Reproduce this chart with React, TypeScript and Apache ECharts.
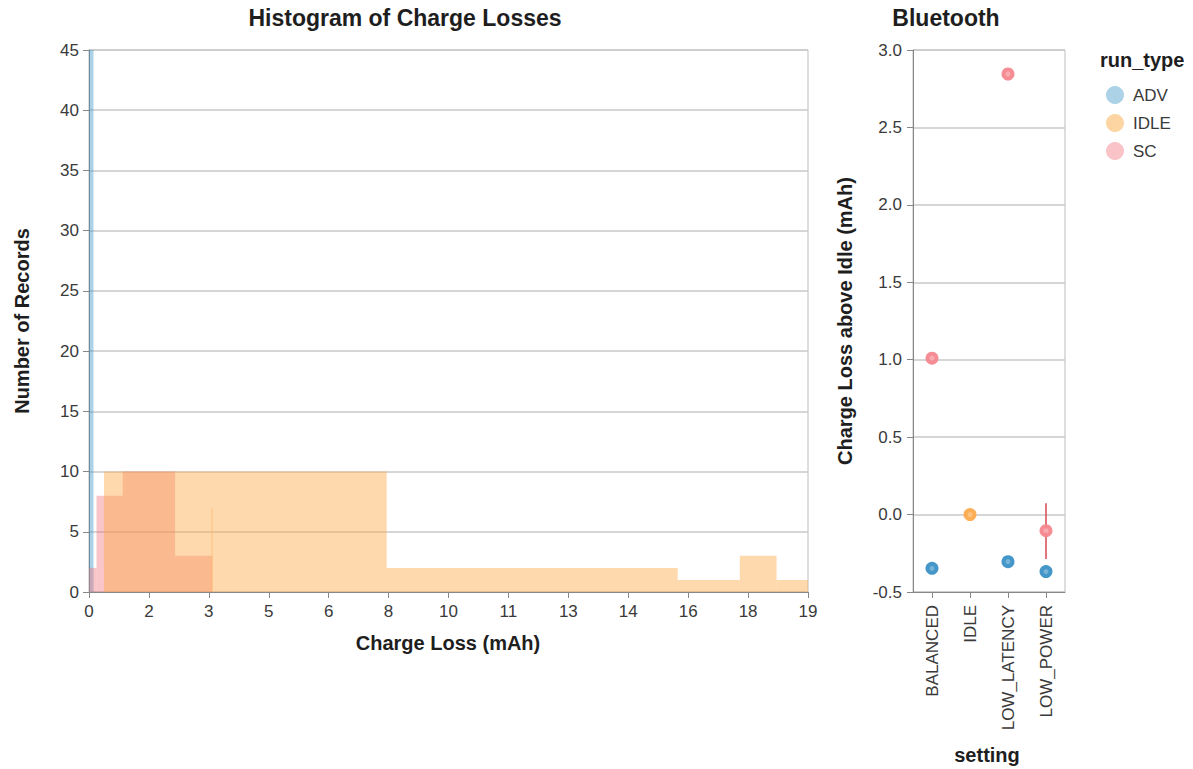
import React, { useEffect, useRef } from "react";
import * as echarts from "echarts";

// Histogram bins: [start (mAh), end (mAh), count]
const ADV_BINS = [[0, 0.12, 45]];
const SC_BINS = [
  [0, 0.2, 2],
  [0.2, 0.9, 8],
  [0.9, 2.3, 10],
  [2.3, 3.29, 3],
];
const IDLE_BINS = [
  [0.4, 7.95, 10],
  [7.95, 15.72, 2],
  [15.72, 17.38, 1],
  [17.38, 18.36, 3],
  [18.36, 19.2, 1],
  [3.27, 3.3, 7],
];

// Bluetooth panel
const SETTINGS = ["BALANCED", "IDLE", "LOW_LATENCY", "LOW_POWER"];
const ADV_POINTS = [
  ["BALANCED", -0.347],
  ["LOW_LATENCY", -0.304],
  ["LOW_POWER", -0.368],
];
const IDLE_POINTS = [["IDLE", 0.0]];
const SC_POINTS = [
  ["BALANCED", 1.01],
  ["LOW_LATENCY", 2.845],
  ["LOW_POWER", -0.104],
];
const SC_ERROR = [
  ["LOW_POWER", 0.073],
  ["LOW_POWER", -0.287],
];

const FONT = "'Liberation Sans', Arial, Helvetica, sans-serif";
const GRID_C = "#c8c8c8";
const AXIS_C = "#888888";
const LABEL_C = "#3a3a3a";
const TITLE_C = "#1e1e1e";

function histSeries(name: string, data: number[][], fill: string) {
  return {
    type: "custom",
    name,
    xAxisIndex: 0,
    yAxisIndex: 0,
    data,
    encode: { x: [0, 1], y: 2 },
    renderItem: (params: any, api: any) => {
      const x0 = api.value(0);
      const x1 = api.value(1);
      const c = api.value(2);
      const p0 = api.coord([x0, c]);
      const p1 = api.coord([x1, 0]);
      return {
        type: "rect",
        shape: { x: p0[0], y: p0[1], width: p1[0] - p0[0], height: p1[1] - p0[1] },
        style: { fill },
      };
    },
  };
}

function label(text: string, x: number, y: number, size: number, rotate = false, align = "center") {
  return {
    type: "text",
    x,
    y,
    rotation: rotate ? Math.PI / 2 : 0,
    style: {
      text,
      font: `bold ${size}px ${FONT}`,
      fill: TITLE_C,
      textAlign: align,
      textVerticalAlign: "middle",
    },
  };
}

export default function App() {
  const ref = useRef<HTMLDivElement>(null);
  useEffect(() => {
    if (!ref.current) return;
    const chart = echarts.init(ref.current, undefined, { renderer: "svg" });
    const axisLabel = { color: LABEL_C, fontSize: 17, fontFamily: FONT };
    const option: any = {
      animation: false,
      backgroundColor: "#ffffff",
      textStyle: { fontFamily: FONT },
      grid: [
        { left: 89, top: 50, width: 719, height: 542, show: true, borderColor: "#bdbdbd", borderWidth: 1 },
        { left: 913, top: 50, width: 152, height: 542, show: true, borderColor: "#bdbdbd", borderWidth: 1 },
      ],
      xAxis: [
        {
          type: "value",
          gridIndex: 0,
          min: 0,
          max: 19.2,
          interval: 1.6,
          axisLine: { show: true, onZero: false, lineStyle: { color: AXIS_C } },
          axisTick: { show: true, length: 6, lineStyle: { color: AXIS_C } },
          axisLabel: { ...axisLabel, margin: 11, formatter: (v: number) => String(Math.round(v)) },
          splitLine: { show: false },
        },
        {
          type: "category",
          gridIndex: 1,
          data: SETTINGS,
          boundaryGap: true,
          axisLine: { show: true, onZero: false, lineStyle: { color: AXIS_C } },
          axisTick: { show: true, alignWithLabel: true, length: 6, lineStyle: { color: AXIS_C } },
          axisLabel: { ...axisLabel, rotate: 90, margin: 13, interval: 0 },
          splitLine: { show: false },
        },
      ],
      yAxis: [
        {
          type: "value",
          gridIndex: 0,
          min: 0,
          max: 45,
          interval: 5,
          axisLine: { show: true, lineStyle: { color: AXIS_C } },
          axisTick: { show: true, length: 6, lineStyle: { color: AXIS_C } },
          axisLabel: { ...axisLabel, margin: 10 },
          splitLine: { show: true, lineStyle: { color: GRID_C, width: 1.5 } },
        },
        {
          type: "value",
          gridIndex: 1,
          min: -0.5,
          max: 3.0,
          interval: 0.5,
          axisLine: { show: true, lineStyle: { color: AXIS_C } },
          axisTick: { show: true, length: 6, lineStyle: { color: AXIS_C } },
          axisLabel: { ...axisLabel, margin: 11, formatter: (v: number) => v.toFixed(1) },
          splitLine: { show: true, lineStyle: { color: GRID_C, width: 1.5 } },
        },
      ],
      legend: {
        orient: "vertical",
        left: 1101,
        top: 81,
        itemWidth: 18,
        itemHeight: 18,
        itemGap: 10,
        icon: "circle",
        textStyle: { color: LABEL_C, fontSize: 17, fontFamily: FONT, padding: [0, 0, 0, 4] },
        data: [
          { name: "ADV", itemStyle: { color: "#abd2e7" } },
          { name: "IDLE", itemStyle: { color: "#fdd5a2" } },
          { name: "SC", itemStyle: { color: "#f9c3c8" } },
        ],
      },
      graphic: [
        label("Histogram of Charge Losses", 405, 18, 23),
        label("Bluetooth", 946, 18, 23),
        label("Number of Records", 22, 321, 20, true),
        label("Charge Loss (mAh)", 448, 643, 20),
        label("Charge Loss above Idle (mAh)", 845, 321, 20, true),
        label("setting", 987, 755, 20),
        label("run_type", 1100, 60, 20, false, "left"),
      ],
      series: [
        histSeries("ADV", ADV_BINS, "rgba(59,146,196,0.42)"),
        histSeries("SC", SC_BINS, "rgba(240,110,120,0.4)"),
        histSeries("IDLE", IDLE_BINS, "rgba(253,170,74,0.45)"),
        {
          type: "line",
          name: "SC error",
          xAxisIndex: 1,
          yAxisIndex: 1,
          data: SC_ERROR,
          symbol: "none",
          lineStyle: { color: "#d9464f", width: 1.5 },
          z: 3,
        },
        {
          type: "scatter",
          name: "ADV",
          xAxisIndex: 1,
          yAxisIndex: 1,
          data: ADV_POINTS,
          symbolSize: 13,
          itemStyle: { color: "#3a91c5", opacity: 0.95 },
          z: 4,
        },
        {
          type: "scatter",
          name: "IDLE",
          xAxisIndex: 1,
          yAxisIndex: 1,
          data: IDLE_POINTS,
          symbolSize: 13,
          itemStyle: { color: "#fdab4d", opacity: 0.95 },
          z: 4,
        },
        {
          type: "scatter",
          name: "SC",
          xAxisIndex: 1,
          yAxisIndex: 1,
          data: SC_POINTS,
          symbolSize: 13,
          itemStyle: { color: "#f5878f", opacity: 0.95 },
          z: 4,
        },
        {
          type: "scatter",
          name: "inner",
          xAxisIndex: 1,
          yAxisIndex: 1,
          data: [...ADV_POINTS, ...IDLE_POINTS, ...SC_POINTS],
          symbolSize: 5,
          itemStyle: { color: "rgba(255,255,255,0.35)" },
          z: 5,
          silent: true,
        },
      ],
    };
    chart.setOption(option);
    return () => chart.dispose();
  }, []);
  return (
    <div
      ref={ref}
      style={{ position: "fixed", left: 0, top: 0, width: 1193, height: 769, background: "#fff" }}
    />
  );
}
